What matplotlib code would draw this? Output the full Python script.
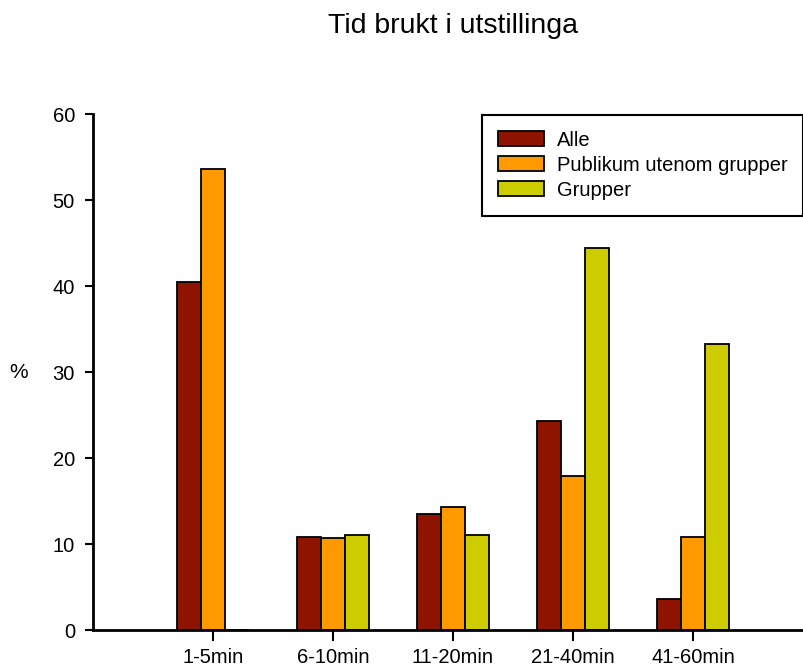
import matplotlib
matplotlib.use('Agg')
import matplotlib.pyplot as plt
import numpy as np

plt.rcParams['font.family'] = ['Liberation Sans', 'DejaVu Sans']

categories = ['1-5min', '6-10min', '11-20min', '21-40min', '41-60min']
alle = [40.5, 10.8, 13.5, 24.3, 3.6]
publikum = [53.6, 10.7, 14.3, 17.9, 10.8]
grupper = [0, 11.1, 11.1, 44.4, 33.3]

series = [('Alle', alle, '#8e1400'),
          ('Publikum utenom grupper', publikum, '#ff9900'),
          ('Grupper', grupper, '#cccc00')]

fig = plt.figure(figsize=(8.04, 6.70), dpi=100)
ax = fig.add_axes([93/804, 40/670, 720/804, 516/670])

x = np.arange(len(categories))
w = 0.2
for i, (name, vals, col) in enumerate(series):
    ax.bar(x + (i - 1) * w, vals, w, color=col, edgecolor='black',
           linewidth=1.3, label=name, zorder=2)

ax.set_xlim(-1, 5)
ax.set_ylim(0, 60)
ax.set_yticks(range(0, 61, 10))
ax.set_xticks(x)
ax.set_xticklabels(categories)
ax.tick_params(axis='both', labelsize=14.5, width=1.5, direction='out')
ax.tick_params(axis='y', length=6, pad=7)
ax.tick_params(axis='x', length=8, pad=5)
for s in ['top', 'right']:
    ax.spines[s].set_visible(False)
for s in ['left', 'bottom']:
    ax.spines[s].set_linewidth(2)

ax.set_ylabel('%', rotation=0, fontsize=15, va='center', ha='center')
ax.yaxis.set_label_coords(-0.103, 0.5)

fig.text(453/804, 1 - 26/670, 'Tid brukt i utstillinga', fontsize=20.5,
         ha='center', va='center')

leg = ax.legend(loc='upper right', bbox_to_anchor=(803/804, 1 - 115/670),
                bbox_transform=fig.transFigure, borderaxespad=0,
                fontsize=14.5, fancybox=False, framealpha=1,
                handlelength=2.3, handleheight=0.74, handletextpad=0.6,
                labelspacing=0.3, borderpad=0.78)
leg.get_frame().set_edgecolor('black')
leg.get_frame().set_linewidth(1.5)

fig.savefig('out.png', dpi=100)
